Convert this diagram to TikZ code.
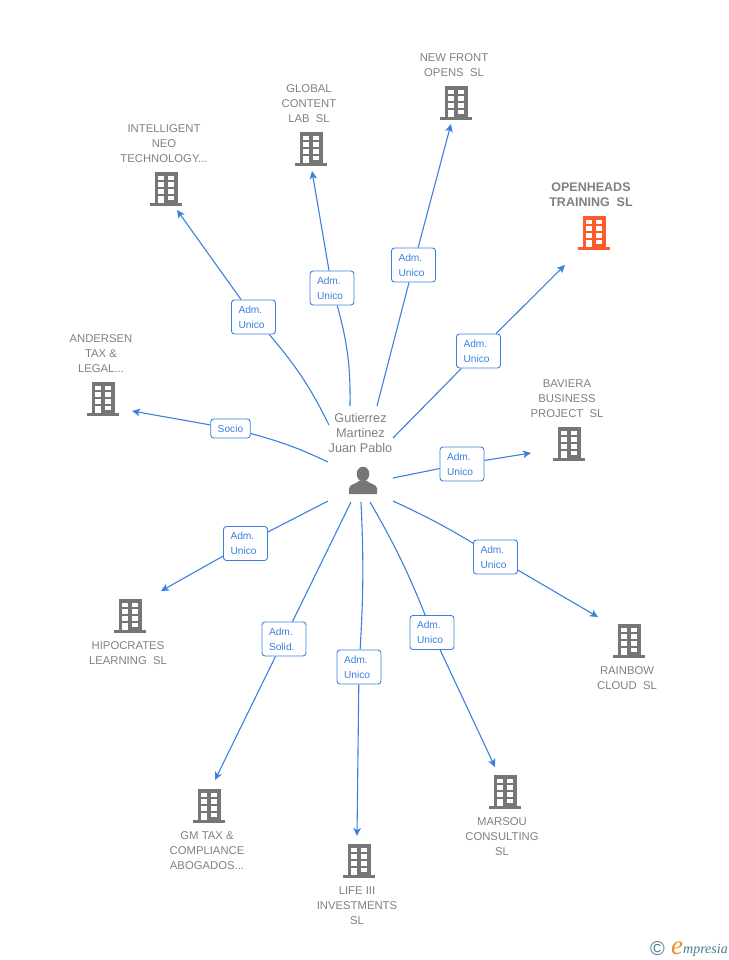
\documentclass[tikz,border=0pt]{standalone}
\usepackage{fontspec}
\setmainfont{Liberation Sans}
\newfontfamily\logofont{Liberation Serif}
\usetikzlibrary{arrows.meta}
\definecolor{linkblue}{HTML}{3C80DE}
\definecolor{namegray}{HTML}{808080}
\definecolor{iconorange}{HTML}{FF5A2B}
\definecolor{icongray}{HTML}{767676}
\definecolor{logoteal}{HTML}{3F7F94}
\definecolor{logoorange}{HTML}{F08A24}

\begin{document}
\begin{tikzpicture}[x=1pt, y=-1pt,
  coname/.style = {text=namegray, align=center, inner sep=0pt, font=\fontsize{11.3}{15}\selectfont},
  hublabel/.style = {coname, font=\fontsize{12.7}{15}\selectfont},
  topname/.style = {coname, font=\bfseries\fontsize{12.5}{15}\selectfont},
  tag/.style = {draw=linkblue, fill=white, rounded corners=3pt, line width=0.9pt, text=linkblue,
    font=\fontsize{10.2}{15}\selectfont, align=left, inner xsep=7pt, inner ysep=0pt},
  role/.style = {tag, text width=30pt, minimum height=34pt},
  link/.style = {draw=linkblue, line width=1.1pt},
  linktip/.style = {link, -{Stealth[length=8pt, width=7.5pt, inset=2pt]}},
  bldg/.pic = {
    \fill[pic actions] (-11.5,-17) rectangle (11.5,14);
    \fill[pic actions] (-16,14) rectangle (16,17);
    \foreach \wx in {-7.7,2.3} \foreach \wy in {-13.4,-6.8,0} \fill[white] (\wx,\wy) rectangle +(5.4,4.8);
    \fill[white] (-7.7,6.6) rectangle (-2.3,14);
    \fill[white] (2.3,6.6) rectangle (7.7,11.4);
  },
  person/.pic = {
    \fill[pic actions] (0,-6) ellipse (6.3 and 7.3);
    \fill[pic actions] (-14,14) -- (-14,8.5) .. controls (-14,4) and (-6,4) .. (-3.5,0.5)
      -- (3.5,0.5) .. controls (6,4) and (14,4) .. (14,8.5) -- (14,14) -- cycle;
  }]
\useasboundingbox (0,0) rectangle (728,960);

%% company names
\node[coname] (introname) at (164,144) {INTELLIGENT\\NEO\\TECHNOLOGY...};
\node[coname] (globalname) at (309,104) {GLOBAL\\CONTENT\\LAB\ \ SL};
\node[coname] (frontname) at (454,65.5) {NEW FRONT\\OPENS\ \ SL};
\node[topname] (openname) at (591,194.5) {OPENHEADS\\TRAINING\ \ SL};
\node[coname] (andername) at (101,354) {ANDERSEN\\TAX \&\\LEGAL...};
\node[coname] (bavname) at (567,399) {BAVIERA\\BUSINESS\\PROJECT\ \ SL};
\node[coname] (rainname) at (627,678.5) {RAINBOW\\CLOUD\ \ SL};
\node[coname] (hipname) at (128,653.5) {HIPOCRATES\\LEARNING\ \ SL};
\node[coname] (gmname) at (207,851) {GM TAX \&\\COMPLIANCE\\ABOGADOS...};
\node[coname] (lifename) at (357,906) {LIFE III\\INVESTMENTS\\SL};
\node[coname] (marname) at (502,837) {MARSOU\\CONSULTING\\SL};
\node[hublabel] (hubname) at (360.5,433) {Gutierrez\\Martinez\\Juan Pablo};

%% icons
\pic[fill=icongray] (intro) at (166,189) {bldg};
\pic[fill=icongray] (global) at (311,149) {bldg};
\pic[fill=icongray] (front) at (456,103) {bldg};
\pic[fill=iconorange] (open) at (594,233) {bldg};
\pic[fill=icongray] (ander) at (103,399) {bldg};
\pic[fill=icongray] (bav) at (569,444) {bldg};
\pic[fill=icongray] (rain) at (629,641) {bldg};
\pic[fill=icongray] (hip) at (130,616) {bldg};
\pic[fill=icongray] (gm) at (209,806) {bldg};
\pic[fill=icongray] (life) at (359,861) {bldg};
\pic[fill=icongray] (mar) at (505,792) {bldg};
\pic[fill=icongray] (hub) at (363,480) {person};

%% free ends at the hub
\coordinate (s1) at (329,425);
\coordinate (s2) at (350,406);
\coordinate (s3) at (377,406);
\coordinate (s4) at (393,438);
\coordinate (s5) at (393,478);
\coordinate (s6) at (393,501);
\coordinate (s7) at (370,502);
\coordinate (s8) at (361,502);
\coordinate (s9) at (351,502);
\coordinate (s10) at (328,501);
\coordinate (s11) at (328,462);

%% free ends at the companies
\coordinate (t1) at (177,210);
\coordinate (t2) at (312,171);
\coordinate (t3) at (451,124);
\coordinate (t4) at (565,265);
\coordinate (t5) at (531,453);
\coordinate (t6) at (598,617);
\coordinate (t7) at (495,767);
\coordinate (t8) at (357,836);
\coordinate (t9) at (215,780);
\coordinate (t10) at (161,591);
\coordinate (t11) at (132,411);

%% role boxes
\node[role] (r1) at (253.5,317) {Adm.\\Unico};
\node[role] (r2) at (332,288) {Adm.\\Unico};
\node[role] (r3) at (413.5,265) {Adm.\\Unico};
\node[role] (r4) at (478.5,351) {Adm.\\Unico};
\node[role] (r5) at (462,464) {Adm.\\Unico};
\node[role] (r6) at (495.5,557) {Adm.\\Unico};
\node[role] (r7) at (432,632.5) {Adm.\\Unico};
\node[role] (r8) at (359,667) {Adm.\\Unico};
\node[role] (r9) at (284,639) {Adm.\\Solid.};
\node[role] (r10) at (245.5,543.5) {Adm.\\Unico};
\node[tag, minimum height=19pt, font=\fontsize{10.2}{12}\selectfont] (r11) at (230.5,428.5) {Socio};

%% edges
\draw[link] (s1) to[bend right=7] (r1);
\draw[link] (s2) to[bend right=8] (r2);
\draw[link] (s3) -- (r3);
\draw[link] (s4) -- (r4);
\draw[link] (s5) -- (r5);
\draw[link] (s6) to[bend left=3] (r6);
\draw[link] (s7) to[bend left=4] (r7);
\draw[link] (s8) to[bend left=3] (r8);
\draw[link] (s9) -- (r9);
\draw[link] (s10) -- (r10);
\draw[link] (s11) to[bend right=5] (r11);

\draw[linktip] (r1) -- (t1);
\draw[linktip] (r2) -- (t2);
\draw[linktip] (r3) -- (t3);
\draw[linktip] (r4) -- (t4);
\draw[linktip] (r5) -- (t5);
\draw[linktip] (r6) -- (t6);
\draw[linktip] (r7) -- (t7);
\draw[linktip] (r8) -- (t8);
\draw[linktip] (r9) -- (t9);
\draw[linktip] (r10) -- (t10);
\draw[linktip] (r11) -- (t11);

%% logo
\node[text=logoteal, inner sep=0pt, font=\fontsize{20}{20}\selectfont] (logoc) at (657.5,949) {©};
\node[text=logoorange, inner sep=0pt, font=\logofont\itshape\fontsize{27}{27}\selectfont] (logoe) at (677,948) {e};
\node[text=logoteal, inner sep=0pt, anchor=west, font=\logofont\itshape\fontsize{14}{14}\selectfont] (logotext) at (683,950) {mpresia};

\end{tikzpicture}
\end{document}
